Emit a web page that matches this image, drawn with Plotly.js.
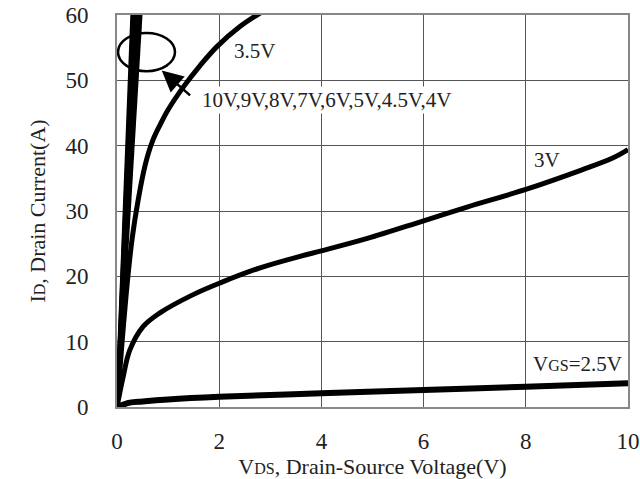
<!DOCTYPE html>
<html>
<head>
<meta charset="utf-8">
<script src="https://cdn.plot.ly/plotly-3.0.1.min.js"></script>
<style>html,body{margin:0;padding:0;background:#fff;}#chart{width:640px;height:479px;}</style>
</head>
<body>
<div id="chart"></div>
<script>
// Bundle of high-VGS curves (nearly linear): VDS reached at ID = 60 A
const bundleNames = ['10V','9V','8V','7V','6V','5V','4.5V','4V'];
const bundleVdsAt60 = [0.30, 0.32, 0.34, 0.36, 0.38, 0.40, 0.43, 0.46];
const bundleId = [0, 60];

// VGS = 3.5 V
const vds35 = [0, 0.05, 0.10, 0.16, 0.22, 0.30, 0.41, 0.55, 0.70, 0.85, 1.00, 1.30, 1.63, 1.96, 2.40, 2.80, 3.00];
const id35  = [0, 5.0, 10.0, 15.5, 20.5, 26.0, 31.5, 37.0, 40.8, 43.3, 45.5, 49.0, 52.3, 55.2, 58.2, 60.3, 61.2];

// VGS = 3 V
const vds3 = [0, 0.05, 0.12, 0.25, 0.51, 0.84, 1.49, 2.02, 2.80, 3.60, 4.00, 4.90, 6.00, 6.85, 8.00, 9.10, 9.70, 10.0];
const id3  = [0, 2.0, 4.6, 8.7, 12.3, 14.4, 17.2, 19.0, 21.3, 23.1, 23.9, 25.8, 28.5, 30.6, 33.3, 36.3, 38.1, 39.4];

// VGS = 2.5 V
const vds25 = [0, 0.25, 0.5, 1.0, 2.0, 4.0, 6.0, 8.0, 10.0];
const id25  = [0, 0.66, 0.85, 1.15, 1.55, 2.1, 2.6, 3.1, 3.65];

const xTicks = [0, 2, 4, 6, 8, 10];
const yTicks = [0, 10, 20, 30, 40, 50, 60];

const serif = "'Liberation Serif', 'Times New Roman', serif";

const traces = [];
bundleNames.forEach((n, i) => {
  traces.push({
    x: [0, bundleVdsAt60[i]], y: bundleId, name: n, mode: 'lines',
    line: {color: '#000', width: 4}, hoverinfo: 'skip'
  });
});
traces.push({x: vds35, y: id35, name: '3.5V', mode: 'lines', line: {color: '#000', width: 5, shape: 'spline', smoothing: 1}});
traces.push({x: vds3, y: id3, name: '3V', mode: 'lines', line: {color: '#000', width: 5, shape: 'spline', smoothing: 1}});
traces.push({x: vds25, y: id25, name: '2.5V', mode: 'lines', line: {color: '#000', width: 6, shape: 'spline', smoothing: 1}});

const layout = {
  width: 640, height: 479,
  margin: {l: 117, r: 12, t: 15, b: 72},
  paper_bgcolor: '#fff', plot_bgcolor: '#fff',
  showlegend: false,
  font: {family: serif, color: '#222', size: 22},
  xaxis: {
    range: [0, 10], tickvals: xTicks, ticktext: xTicks.map(String),
    showgrid: true, gridcolor: '#555', gridwidth: 1,
    zeroline: false, showline: true, linecolor: '#888', linewidth: 2, mirror: true,
    ticks: '', ticklabelstandoff: 12,
    tickfont: {family: serif, size: 23, color: '#222'},
    title: {text: 'V<span style="font-size:16px">DS</span>, Drain-Source Voltage(V)', font: {family: serif, size: 22, color: '#222'}, standoff: 8}
  },
  yaxis: {
    range: [0, 60], tickvals: yTicks, ticktext: yTicks.map(String),
    showgrid: true, gridcolor: '#555', gridwidth: 1,
    zeroline: false, showline: true, linecolor: '#888', linewidth: 2, mirror: true,
    ticks: '', ticklabelstandoff: 22,
    tickfont: {family: serif, size: 23, color: '#222'},
    title: {text: 'I<span style="font-size:16px">D</span>, Drain Current(A)', font: {family: serif, size: 22, color: '#222'}, standoff: 14}
  },
  shapes: [
    {type: 'circle', xref: 'x', yref: 'y', x0: 0.02, x1: 1.135, y0: 51.4, y1: 57.25,
     line: {color: '#000', width: 2.5}, fillcolor: 'rgba(0,0,0,0)'}
  ],
  annotations: [
    {x: 0.875, y: 51.5, xref: 'x', yref: 'y', ax: 1.46, ay: 47.5, axref: 'x', ayref: 'y',
     text: '', showarrow: true, arrowhead: 2, arrowsize: 1.7, arrowwidth: 2.5, arrowcolor: '#000'},
    {x: 4.10, y: 47.0, xref: 'x', yref: 'y', text: '10V,9V,8V,7V,6V,5V,4.5V,4V', showarrow: false,
     bgcolor: '#fff', borderpad: 1, font: {family: serif, size: 21, color: '#222'}},
    {x: 2.70, y: 54.5, xref: 'x', yref: 'y', text: '3.5V', showarrow: false,
     font: {family: serif, size: 21, color: '#222'}},
    {x: 8.41, y: 37.8, xref: 'x', yref: 'y', text: '3V', showarrow: false,
     font: {family: serif, size: 21, color: '#222'}},
    {x: 9.01, y: 6.6, xref: 'x', yref: 'y', text: 'V<span style="font-size:16px">GS</span>=2.5V', showarrow: false,
     font: {family: serif, size: 21, color: '#222'}}
  ]
};

Plotly.newPlot('chart', traces, layout, {staticPlot: true, displayModeBar: false});
</script>
</body>
</html>
